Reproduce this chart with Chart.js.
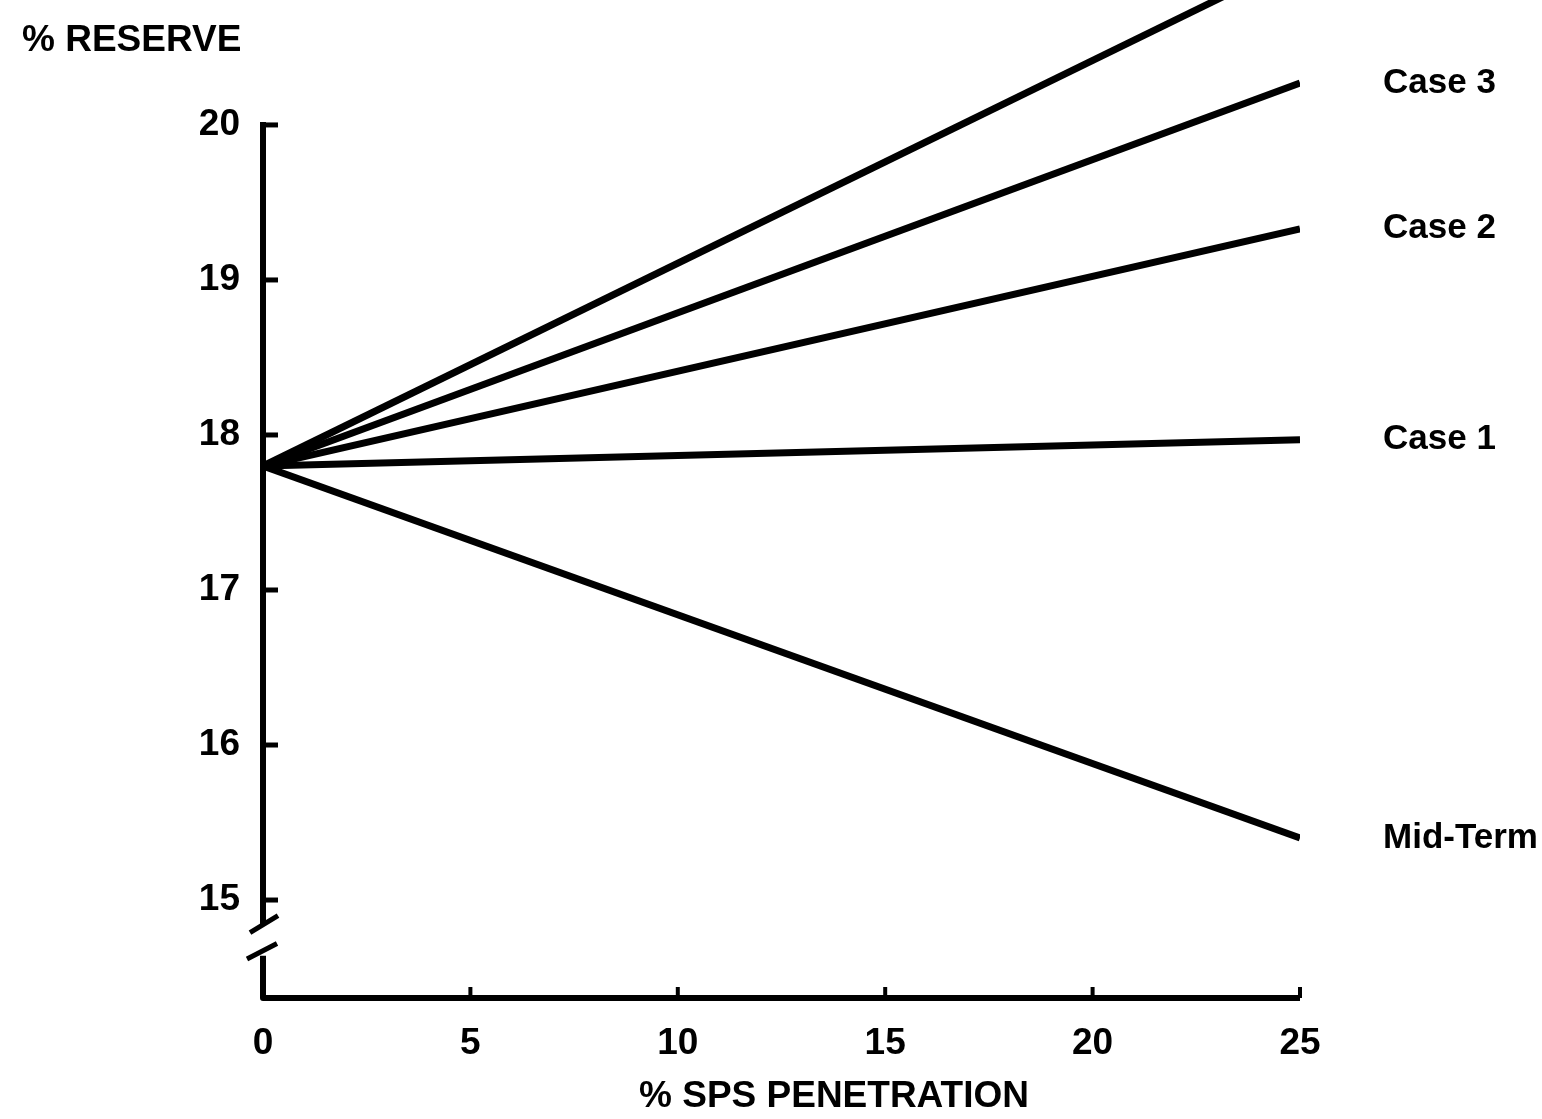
<!DOCTYPE html>
<html>
<head>
<meta charset="utf-8">
<script src="https://cdn.jsdelivr.net/npm/chart.js@4.4.1/dist/chart.umd.min.js"></script>
<style>
  html, body { margin: 0; padding: 0; background: #fff; }
  #wrap { width: 1542px; height: 1119px; position: relative; }
</style>
</head>
<body>
<div id="wrap"><canvas id="c" width="1542" height="1119"></canvas></div>
<script>
// ---- data ----
const xValues = [0, 25];
const xTicks = [0, 5, 10, 15, 20, 25];
const yTicks = [15, 16, 17, 18, 19, 20];
const seriesNames = ['', 'Case 3', 'Case 2', 'Case 1', 'Mid-Term'];
const topLine = [17.8, 21.07];
const case3 = [17.8, 20.27];
const case2 = [17.8, 19.33];
const case1 = [17.8, 17.97];
const midTerm = [17.8, 15.40];
const yAxisTitle = '% RESERVE';
const xAxisTitle = '% SPS PENETRATION';

const seriesValues = [topLine, case3, case2, case1, midTerm];
const FONT = '"Liberation Sans", Arial, sans-serif';

const datasets = seriesValues.map((vals, i) => ({
  label: seriesNames[i],
  data: vals.map((v, j) => ({ x: xValues[j], y: v })),
  borderColor: '#000',
  borderWidth: 7,
  borderCapStyle: 'butt',
  pointRadius: 0,
  tension: 0,
  fill: false
}));

const decor = {
  id: 'decor',
  afterDraw(chart) {
    const ctx = chart.ctx;
    const xs = chart.scales.x, ys = chart.scales.y;
    const x0 = xs.getPixelForValue(0);
    const xEnd = xs.getPixelForValue(25);
    const yb = ys.getPixelForValue(ys.min);
    ctx.save();
    ctx.strokeStyle = '#000';
    ctx.fillStyle = '#000';
    ctx.lineWidth = 6;
    ctx.lineCap = 'butt';
    // upper vertical axis
    ctx.beginPath();
    ctx.moveTo(x0, ys.getPixelForValue(20) - 3);
    ctx.lineTo(x0, ys.getPixelForValue(14.84));
    ctx.stroke();
    // y ticks (inward)
    ctx.lineWidth = 5;
    yTicks.forEach(v => {
      const y = ys.getPixelForValue(v);
      ctx.beginPath();
      ctx.moveTo(x0, y);
      ctx.lineTo(x0 + 15, y);
      ctx.stroke();
    });
    // break marks
    ctx.lineWidth = 5;
    ctx.beginPath();
    ctx.moveTo(x0 - 13, ys.getPixelForValue(14.79));
    ctx.lineTo(x0 + 15, ys.getPixelForValue(14.90));
    ctx.moveTo(x0 - 16, ys.getPixelForValue(14.62));
    ctx.lineTo(x0 + 14, ys.getPixelForValue(14.72));
    ctx.stroke();
    // lower axis segment + x axis
    ctx.lineWidth = 6;
    ctx.lineJoin = 'round';
    ctx.beginPath();
    ctx.moveTo(x0, ys.getPixelForValue(14.64));
    ctx.lineTo(x0, yb);
    ctx.lineTo(xEnd, yb);
    ctx.stroke();
    // x ticks (upward)
    ctx.lineWidth = 4;
    xTicks.slice(1).forEach(v => {
      const x = xs.getPixelForValue(v);
      ctx.beginPath();
      ctx.moveTo(x, yb);
      ctx.lineTo(x, yb - 11);
      ctx.stroke();
    });
    // titles
    ctx.font = 'bold 37px ' + FONT;
    ctx.textBaseline = 'middle';
    ctx.textAlign = 'left';
    ctx.fillText(yAxisTitle, 22, 41);
    ctx.textAlign = 'center';
    ctx.fillText(xAxisTitle, 834, 1097);
    // series labels
    ctx.font = 'bold 35px ' + FONT;
    ctx.textAlign = 'left';
    chart.data.datasets.forEach((ds, i) => {
      if (!ds.label) return;
      const meta = chart.getDatasetMeta(i);
      const pt = meta.data[meta.data.length - 1];
      ctx.fillText(ds.label, 1383, pt.y);
    });
    ctx.restore();
  }
};

new Chart(document.getElementById('c'), {
  type: 'line',
  data: { datasets },
  options: {
    responsive: false,
    animation: false,
    devicePixelRatio: 1,
    layout: { padding: { left: 0, top: 0, right: 242, bottom: 0 } },
    plugins: { legend: { display: false }, tooltip: { enabled: false }, title: { display: false } },
    scales: {
      x: {
        type: 'linear',
        min: 0, max: 25,
        grid: { display: false, drawTicks: false },
        border: { display: false },
        ticks: { stepSize: 5, color: '#000', padding: 24, font: { family: FONT, size: 37, weight: 'bold' } },
        afterFit(s) { s.height = 121; s.paddingLeft = 0; s.paddingRight = 0; }
      },
      y: {
        type: 'linear',
        min: 14.368, max: 20.806,
        grid: { display: false, drawTicks: false },
        border: { display: false },
        ticks: { color: '#000', padding: 23, font: { family: FONT, size: 37, weight: 'bold' } },
        afterBuildTicks(s) { s.ticks = yTicks.map(v => ({ value: v })); },
        afterFit(s) { s.width = 263; s.paddingTop = 0; s.paddingBottom = 0; }
      }
    }
  },
  plugins: [decor]
});
</script>
</body>
</html>
